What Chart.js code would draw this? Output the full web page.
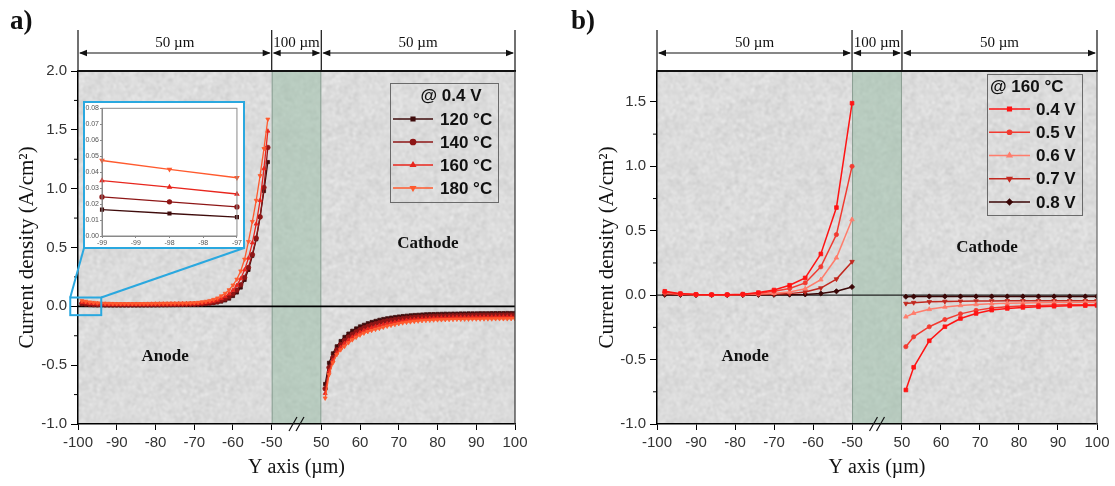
<!DOCTYPE html>
<html>
<head>
<meta charset="utf-8">
<title>Current density profiles</title>
<script src="https://cdn.jsdelivr.net/npm/chart.js@4.4.1/dist/chart.umd.min.js"></script>
<style>
  html, body { margin: 0; padding: 0; background: #fff; }
  #wrap { position: relative; width: 1115px; height: 486px; overflow: hidden; }
  canvas { display: block; }
  #panelA { position: absolute; left: 0; top: 0; }
  #panelB { position: absolute; left: 557px; top: 0; }
  #zoomBox { position: absolute; left: 83px; top: 101px; width: 162px; height: 148px;
             box-sizing: border-box; border: 2px solid #2aa8df; background: #fff; }
  #inset { position: absolute; left: 0; top: 0; }
</style>
</head>
<body>
<div id="wrap">
  <canvas id="panelA" width="557" height="486"></canvas>
  <canvas id="panelB" width="558" height="486"></canvas>
  <div id="zoomBox"><canvas id="inset" width="158" height="144"></canvas></div>
</div>
<script>
// ---------- data: panel a, 0.4 V at four temperatures ----------
const anodeX = [-99, -98, -97, -96, -95, -94, -93, -92, -91, -90, -89, -88, -87, -86, -85,
  -84, -83, -82, -81, -80, -79, -78, -77, -76, -75, -74, -73, -72, -71, -70,
  -69, -68, -67, -66, -65, -64, -63, -62, -61, -60, -59, -58, -57, -56, -55, -54, -53, -52, -51]
const cathodeX = [51, 52, 53, 54, 55, 56, 57, 58, 59, 60, 61, 62, 63, 64, 65, 66, 67, 68, 69, 70,
  71, 72, 73, 74, 75, 76, 77, 78, 79, 80, 81, 82, 83, 84, 85, 86, 87, 88, 89, 90,
  91, 92, 93, 94, 95, 96, 97, 98, 99, 100]

const tempLabels = ["120 °C", "140 °C", "160 °C", "180 °C"]

const anode120 = [0.0165, 0.0141, 0.0118, 0.0105, 0.0098, 0.0094, 0.0092, 0.0091, 0.009, 0.009, 0.009, 0.009, 0.009, 0.009, 0.009,
  0.0091, 0.0092, 0.0094, 0.0096, 0.0099, 0.0102, 0.0106, 0.011, 0.0115, 0.012, 0.0127, 0.0135, 0.0145, 0.0152, 0.016,
  0.018, 0.02, 0.022, 0.025, 0.029, 0.034, 0.041, 0.051, 0.066, 0.088, 0.118, 0.16, 0.225, 0.31, 0.43, 0.57, 0.76, 0.98, 1.226]
const anode140 = [0.0245, 0.0214, 0.0182, 0.016, 0.0148, 0.014, 0.0135, 0.0132, 0.013, 0.013, 0.013, 0.013, 0.013, 0.013, 0.013,
  0.0131, 0.0133, 0.0136, 0.0139, 0.0142, 0.0145, 0.0148, 0.0151, 0.0154, 0.0157, 0.016, 0.0164, 0.0168, 0.0173, 0.018,
  0.019, 0.021, 0.024, 0.028, 0.033, 0.04, 0.05, 0.063, 0.081, 0.105, 0.138, 0.183, 0.245, 0.33, 0.44, 0.58, 0.76, 1.01, 1.35]
const anode160 = [0.0347, 0.0306, 0.0263, 0.0232, 0.021, 0.0196, 0.0186, 0.018, 0.0176, 0.0174, 0.0172, 0.0172, 0.0172, 0.0172, 0.0173,
  0.0174, 0.0176, 0.0179, 0.0182, 0.0185, 0.0188, 0.0191, 0.0194, 0.0197, 0.02, 0.0204, 0.0208, 0.0213, 0.022, 0.023,
  0.025, 0.028, 0.032, 0.037, 0.044, 0.053, 0.066, 0.083, 0.106, 0.137, 0.178, 0.235, 0.31, 0.41, 0.54, 0.7, 0.9, 1.17, 1.49]
const anode180 = [0.0473, 0.0418, 0.0365, 0.032, 0.0288, 0.0265, 0.025, 0.024, 0.0233, 0.0228, 0.0225, 0.0223, 0.0222, 0.0222, 0.0223,
  0.0225, 0.0228, 0.0232, 0.0236, 0.024, 0.0244, 0.0248, 0.0252, 0.0256, 0.026, 0.0265, 0.027, 0.0276, 0.0285, 0.03,
  0.033, 0.037, 0.042, 0.049, 0.058, 0.07, 0.088, 0.11, 0.14, 0.18, 0.23, 0.3, 0.4, 0.55, 0.72, 0.9, 1.11, 1.34, 1.59]

const cathode120 = [-0.66, -0.48, -0.4, -0.34, -0.295, -0.26, -0.232, -0.208, -0.188, -0.171,
  -0.157, -0.144, -0.133, -0.124, -0.115, -0.108, -0.102, -0.096, -0.091, -0.087,
  -0.083, -0.08, -0.077, -0.074, -0.072, -0.07, -0.068, -0.067, -0.066, -0.065,
  -0.064, -0.063, -0.063, -0.062, -0.062, -0.061, -0.061, -0.06, -0.06, -0.06,
  -0.059, -0.059, -0.059, -0.058, -0.058, -0.058, -0.058, -0.057, -0.057, -0.057]
const cathode140 = [-0.7, -0.52, -0.435, -0.37, -0.325, -0.29, -0.262, -0.238, -0.217, -0.199,
  -0.183, -0.17, -0.158, -0.148, -0.139, -0.131, -0.124, -0.118, -0.113, -0.108,
  -0.104, -0.1, -0.097, -0.094, -0.092, -0.09, -0.088, -0.086, -0.085, -0.084,
  -0.083, -0.082, -0.081, -0.08, -0.08, -0.079, -0.079, -0.078, -0.078, -0.077,
  -0.077, -0.076, -0.076, -0.076, -0.075, -0.075, -0.075, -0.074, -0.074, -0.074]
const cathode160 = [-0.74, -0.55, -0.46, -0.395, -0.35, -0.315, -0.287, -0.262, -0.241, -0.222,
  -0.206, -0.193, -0.182, -0.172, -0.163, -0.155, -0.147, -0.14, -0.134, -0.128,
  -0.123, -0.118, -0.114, -0.111, -0.108, -0.106, -0.104, -0.102, -0.1, -0.099,
  -0.098, -0.097, -0.096, -0.095, -0.094, -0.094, -0.093, -0.093, -0.092, -0.092,
  -0.092, -0.091, -0.091, -0.091, -0.09, -0.09, -0.09, -0.09, -0.089, -0.089]
const cathode180 = [-0.78, -0.58, -0.48, -0.41, -0.37, -0.34, -0.31, -0.285, -0.263, -0.244,
  -0.228, -0.215, -0.205, -0.196, -0.187, -0.178, -0.169, -0.161, -0.154, -0.147,
  -0.141, -0.136, -0.132, -0.128, -0.125, -0.122, -0.12, -0.118, -0.116, -0.115,
  -0.114, -0.113, -0.112, -0.111, -0.11, -0.11, -0.109, -0.109, -0.108, -0.108,
  -0.108, -0.107, -0.107, -0.107, -0.106, -0.106, -0.106, -0.106, -0.105, -0.105]

// ---------- data: panel b, 160 °C at five cell voltages ----------
const voltAnodeX = [-98, -94, -90, -86, -82, -78, -74, -70, -66, -62, -58, -54, -50]
const voltCathodeX = [51, 53, 57, 61, 65, 69, 73, 77, 81, 85, 89, 93, 97, 100]
const voltLabels = ["0.4 V", "0.5 V", "0.6 V", "0.7 V", "0.8 V"]

const anode04 = [0.03, 0.012, 0.006, 0.004, 0.004, 0.008, 0.02, 0.04, 0.077, 0.134, 0.32, 0.68, 1.49]
const anode05 = [0.025, 0.01, 0.005, 0.003, 0.003, 0.006, 0.015, 0.031, 0.052, 0.095, 0.22, 0.47, 1.0]
const anode06 = [0.02, 0.008, 0.004, 0.003, 0.003, 0.005, 0.01, 0.015, 0.025, 0.05, 0.12, 0.29, 0.587]
const anode07 = [0.01, 0.005, 0.003, 0.002, 0.002, 0.003, 0.005, 0.008, 0.012, 0.025, 0.055, 0.125, 0.26]
const anode08 = [0.003, 0.002, 0.001, 0.001, 0.001, 0.001, 0.002, 0.003, 0.004, 0.006, 0.013, 0.03, 0.064]

const cathode04 = [-0.736, -0.56, -0.354, -0.245, -0.181, -0.142, -0.116, -0.103, -0.095, -0.09, -0.086, -0.083, -0.081, -0.08]
const cathode05 = [-0.4, -0.323, -0.245, -0.189, -0.145, -0.118, -0.1, -0.09, -0.084, -0.08, -0.077, -0.075, -0.074, -0.073]
const cathode06 = [-0.168, -0.14, -0.11, -0.092, -0.08, -0.072, -0.066, -0.062, -0.06, -0.058, -0.057, -0.056, -0.055, -0.055]
const cathode07 = [-0.065, -0.058, -0.052, -0.049, -0.047, -0.046, -0.045, -0.044, -0.044, -0.043, -0.043, -0.043, -0.043, -0.043]
const cathode08 = [-0.012, -0.011, -0.01, -0.01, -0.01, -0.01, -0.01, -0.01, -0.01, -0.01, -0.01, -0.01, -0.01, -0.01]

// ---------- ticks and text ----------
const xTickValues = [-100, -90, -80, -70, -60, -50, 50, 60, 70, 80, 90, 100]
const yTicksA = [-1, -0.5, 0, 0.5, 1, 1.5, 2]
const yTicksB = [-1, -0.5, 0, 0.5, 1, 1.5]
const insetXTicks = [-99, -98.5, -98, -97.5, -97]
const insetXLabels = ["-99", "-99", "-98", "-98", "-97"]
const insetYTicks = [0, 0.01, 0.02, 0.03, 0.04, 0.05, 0.06, 0.07, 0.08]
const spanLabels = ["50 µm", "100 µm", "50 µm"]

// ---------- styles ----------
const SANS = '"Liberation Sans", Arial, sans-serif'
const SERIF = '"Liberation Serif", "Times New Roman", serif'
Chart.defaults.font.family = SANS

const tempStyle = [
  { color: "#3f0c0c", point: "rect", rot: 0 },
  { color: "#8e1616", point: "circle", rot: 0 },
  { color: "#e8261d", point: "triangle", rot: 0 },
  { color: "#ff5a2e", point: "triangle", rot: 180 },
]
const voltStyle = [
  { color: "#ff1414", point: "rect", rot: 0, r: 2.6 },
  { color: "#f23a30", point: "circle", rot: 0, r: 2.1 },
  { color: "#ff7d6c", point: "triangle", rot: 0, r: 2.6 },
  { color: "#c2281f", point: "triangle", rot: 180, r: 2.6 },
  { color: "#3a0606", point: "rectRot", rot: 0, r: 2.6 },
]

// the x axis skips the membrane: -50..50 is squeezed into a narrow strip
const BREAK_GAP = 12.8
const brk = (v) => (v < 0 ? v : v - 100 + BREAK_GAP)

function line(ctx, x0, y0, x1, y1) {
  ctx.beginPath()
  ctx.moveTo(x0, y0)
  ctx.lineTo(x1, y1)
  ctx.stroke()
}

function arrow(ctx, x0, x1, y) {
  line(ctx, x0 + 2, y, x1 - 2, y)
  ;[[x0, 1], [x1, -1]].forEach(([p, d]) => {
    ctx.beginPath()
    ctx.moveTo(p + d, y)
    ctx.lineTo(p + d * 9, y - 3.2)
    ctx.lineTo(p + d * 9, y + 3.2)
    ctx.closePath()
    ctx.fill()
  })
}

// speckled tile used as plot background (stone-like texture)
function speckleTile(r, g, b, amp, seed, blur) {
  const size = 128
  const raw = document.createElement("canvas")
  raw.width = raw.height = size
  const c = raw.getContext("2d")
  c.fillStyle = `rgb(${r},${g},${b})`
  c.fillRect(0, 0, size, size)
  let s = seed
  const next = () => (s = (s * 48271) % 2147483647) / 2147483647
  // soft blotches first, then fine grain
  for (let i = 0; i < 260; i++) {
    const d = Math.round((next() * 2 - 1) * amp * 0.5)
    c.fillStyle = `rgba(${r + d},${g + d},${b + d},0.6)`
    const cx = next() * size, cy = next() * size, rad = 2 + next() * 5
    for (const ox of [-size, 0, size]) {
      for (const oy of [-size, 0, size]) {
        c.beginPath()
        c.arc(cx + ox, cy + oy, rad, 0, Math.PI * 2)
        c.fill()
      }
    }
  }
  for (let i = 0; i < 7000; i++) {
    const d = Math.round((next() * 2 - 1) * amp)
    c.fillStyle = `rgb(${r + d},${g + d},${b + d})`
    c.fillRect(Math.floor(next() * size), Math.floor(next() * size), 1 + Math.floor(next() * 2), 1 + Math.floor(next() * 2))
  }
  // blur a 3x3 mosaic so the tile edges wrap without seams
  const big = document.createElement("canvas")
  big.width = big.height = size * 3
  const bg = big.getContext("2d")
  for (let i = 0; i < 3; i++) for (let j = 0; j < 3; j++) bg.drawImage(raw, i * size, j * size)
  const out = document.createElement("canvas")
  out.width = out.height = size
  const o = out.getContext("2d")
  o.filter = `blur(${blur}px)`
  o.drawImage(big, -size, -size)
  return out
}
const grayTile = speckleTile(219, 219, 219, 20, 12345, 0.8)
const greenTile = speckleTile(184, 203, 191, 10, 777, 0.9)

const decor = {
  id: "decor",
  beforeDraw(chart) {
    const { ctx, chartArea: a, scales: { x } } = chart
    ctx.save()
    ctx.fillStyle = ctx.createPattern(grayTile, "repeat")
    ctx.fillRect(a.left, a.top, a.width, a.height)
    const b0 = x.getPixelForValue(brk(-50))
    const b1 = x.getPixelForValue(brk(50))
    ctx.fillStyle = ctx.createPattern(greenTile, "repeat")
    ctx.fillRect(b0, a.top, b1 - b0, a.height)
    ctx.strokeStyle = "rgba(110,130,118,0.6)"
    ctx.lineWidth = 1
    line(ctx, b0 + 0.5, a.top, b0 + 0.5, a.bottom)
    line(ctx, b1 - 0.5, a.top, b1 - 0.5, a.bottom)
    ctx.restore()
  },
  beforeDatasetsDraw(chart, args, o) {
    const { ctx, chartArea: a, scales: { y } } = chart
    const y0 = y.getPixelForValue(0)
    ctx.save()
    ctx.strokeStyle = o.zeroColor
    ctx.lineWidth = o.zeroWidth
    line(ctx, a.left, y0, a.right, y0)
    ctx.restore()
  },
  afterDraw(chart, args, o) {
    const { ctx, chartArea: a, scales: { x, y } } = chart
    ctx.save()
    // top and right edges of the frame
    ctx.strokeStyle = "#111"
    ctx.lineWidth = 2
    line(ctx, a.left - 1, a.top, a.right + 1, a.top)
    ctx.strokeStyle = o.rightColor
    ctx.lineWidth = 1.2
    line(ctx, a.right, a.top, a.right, a.bottom)

    // minor ticks on the y axis
    ctx.strokeStyle = "#000"
    ctx.lineWidth = 1
    for (let i = 0; i < o.yTicks.length - 1; i++) {
      const py = y.getPixelForValue((o.yTicks[i] + o.yTicks[i + 1]) / 2)
      line(ctx, a.left - 4, py, a.left, py)
    }

    // dimension bars above the plot
    const px = [-100, -50, 50, 100].map((v) => x.getPixelForValue(brk(v)))
    ctx.strokeStyle = "#111"
    ctx.fillStyle = "#111"
    ctx.lineWidth = 1.2
    px.forEach((p) => line(ctx, p, 30, p, a.top))
    for (let i = 0; i < 3; i++) arrow(ctx, px[i], px[i + 1], 53)
    ctx.font = `15px ${SERIF}`
    ctx.textAlign = "center"
    ctx.textBaseline = "middle"
    spanLabels.forEach((t, i) => ctx.fillText(t, (px[i] + px[i + 1]) / 2, 43))

    // axis break marks
    const cx = (px[1] + px[2]) / 2
    ctx.lineWidth = 1.2
    ;[-3.5, 3.5].forEach((d) => line(ctx, cx + d - 4, a.bottom + 7, cx + d + 4, a.bottom - 7))

    // electrode names
    ctx.font = `bold 17px ${SERIF}`
    o.regions.forEach((r) => ctx.fillText(r.text, x.getPixelForValue(brk(r.x)), y.getPixelForValue(r.y)))

    // legend box
    const L = o.legend
    ctx.strokeStyle = "#6a6a6a"
    ctx.lineWidth = 1
    ctx.strokeRect(L.box[0] + 0.5, L.box[1] + 0.5, L.box[2], L.box[3])
    ctx.font = `bold 17px ${SANS}`
    ctx.fillStyle = "#111"
    ctx.textAlign = L.titleAlign
    ctx.fillText(L.title, L.titleX, L.titleY)
    ctx.textAlign = "left"
    L.items.forEach((it, i) => {
      const ly = L.y0 + i * L.dy
      ctx.strokeStyle = it.color
      ctx.fillStyle = it.color
      ctx.lineWidth = 1.5
      line(ctx, L.x0, ly, L.x1, ly)
      Chart.helpers.drawPoint(ctx, { pointStyle: it.point, rotation: it.rot, radius: it.r || L.r, borderWidth: 0.8 }, (L.x0 + L.x1) / 2, ly)
      ctx.fillStyle = "#111"
      ctx.fillText(it.label, L.tx, ly + 1)
    })

    // panel letter
    ctx.font = `bold 27px ${SERIF}`
    ctx.fillText(o.letter, o.letterX, 22)

    // zoomed region and its connectors to the inset
    if (o.zoom) {
      const z = o.zoom
      const zx0 = x.getPixelForValue(z.x0), zx1 = x.getPixelForValue(z.x1)
      const zy0 = y.getPixelForValue(z.y1), zy1 = y.getPixelForValue(z.y0)
      ctx.strokeStyle = "#2aa8df"
      ctx.lineWidth = 2
      ctx.strokeRect(zx0, zy0, zx1 - zx0, zy1 - zy0)
      line(ctx, zx0, zy0, z.to[0][0], z.to[0][1])
      line(ctx, zx1, zy0, z.to[1][0], z.to[1][1])
    }
    ctx.restore()
  },
}

function makeSet(xs, ys, st, radius, width) {
  return {
    data: xs.map((x, i) => ({ x: brk(x), y: ys[i] })),
    borderColor: st.color,
    backgroundColor: st.color,
    pointBackgroundColor: st.color,
    pointBorderColor: st.color,
    pointStyle: st.point,
    pointRotation: st.rot,
    pointRadius: st.r || radius,
    pointBorderWidth: 0.8,
    borderWidth: width,
    tension: 0,
    fill: false,
  }
}

function buildPanel(id, cfg) {
  return new Chart(document.getElementById(id), {
    type: "line",
    data: { datasets: cfg.datasets },
    options: {
      responsive: false,
      animation: false,
      events: [],
      layout: { padding: { left: 0, top: 71, right: cfg.padRight, bottom: 0 } },
      plugins: { legend: { display: false }, tooltip: { enabled: false }, decor: cfg.decor },
      scales: {
        x: {
          type: "linear",
          min: -100,
          max: brk(100),
          afterBuildTicks: (s) => { s.ticks = xTickValues.map((v) => ({ value: brk(v) })) },
          afterFit: (s) => { s.height = 62 },
          ticks: {
            callback: (v, i) => String(xTickValues[i]),
            font: { family: SANS, size: 15 },
            color: "#333",
            padding: 4,
            autoSkip: false,
            maxRotation: 0,
          },
          grid: { drawOnChartArea: false, tickLength: 6, color: "#000", lineWidth: 1 },
          border: { color: "#000", width: 1.5 },
          title: { display: true, text: "Y axis (µm)", font: { family: SERIF, size: 20 }, color: "#111", padding: { top: 0, bottom: 6 } },
        },
        y: {
          type: "linear",
          min: -1,
          max: cfg.yMax,
          afterBuildTicks: (s) => { s.ticks = cfg.yTicks.map((v) => ({ value: v })) },
          afterFit: (s) => { s.width = cfg.yWidth },
          ticks: { callback: (v) => v.toFixed(1), font: { family: SANS, size: 15 }, color: "#333", padding: 4 },
          grid: { drawOnChartArea: false, tickLength: 7, color: "#000", lineWidth: 1 },
          border: { color: "#000", width: 1.5 },
          title: {
            display: true,
            text: "Current density (A/cm²)",
            font: { family: SERIF, size: 21 },
            color: "#111",
            padding: { top: cfg.yTitlePad, bottom: 0 },
          },
        },
      },
    },
    plugins: [decor],
  })
}

// ---------- panel a ----------
const tempAnode = [anode120, anode140, anode160, anode180]
const tempCathode = [cathode120, cathode140, cathode160, cathode180]
const setsA = []
for (let k = 3; k >= 0; k--) {
  setsA.push(makeSet(anodeX, tempAnode[k], tempStyle[k], 2.3, 1.3))
  setsA.push(makeSet(cathodeX, tempCathode[k], tempStyle[k], 2.3, 1.3))
}

buildPanel("panelA", {
  datasets: setsA,
  padRight: 42,
  yMax: 2,
  yTicks: yTicksA,
  yWidth: 78,
  yTitlePad: 15,
  decor: {
    zeroColor: "#000",
    zeroWidth: 1.6,
    rightColor: "#333",
    yTicks: yTicksA,
    letter: "a)",
    letterX: 10,
    regions: [
      { text: "Anode", x: -77.5, y: -0.43 },
      { text: "Cathode", x: 77.5, y: 0.535 },
    ],
    legend: {
      box: [390, 83, 108, 119],
      title: "@ 0.4 V",
      titleAlign: "center",
      titleX: 451,
      titleY: 96,
      items: tempLabels.map((label, i) => ({ label, ...tempStyle[i] })),
      x0: 393, x1: 433, tx: 440, y0: 119, dy: 23, r: 2.6,
    },
    zoom: { x0: -102, x1: -94, y0: -0.075, y1: 0.075, to: [[84, 248], [244, 248]] },
  },
})

// ---------- panel b ----------
const voltAnode = [anode04, anode05, anode06, anode07, anode08]
const voltCathode = [cathode04, cathode05, cathode06, cathode07, cathode08]
const setsB = []
voltAnode.forEach((ys, k) => {
  setsB.push(makeSet(voltAnodeX, ys, voltStyle[k], 2.6, 1.5))
  setsB.push(makeSet(voltCathodeX, voltCathode[k], voltStyle[k], 2.6, 1.5))
})

buildPanel("panelB", {
  datasets: setsB,
  padRight: 18,
  yMax: 1.74,
  yTicks: yTicksB,
  yWidth: 100,
  yTitlePad: 38,
  decor: {
    zeroColor: "#222",
    zeroWidth: 1.2,
    rightColor: "#666",
    yTicks: yTicksB,
    letter: "b)",
    letterX: 14,
    regions: [
      { text: "Anode", x: -77.4, y: -0.48 },
      { text: "Cathode", x: 71.8, y: 0.372 },
    ],
    legend: {
      box: [430, 74, 95, 141],
      title: "@ 160 °C",
      titleAlign: "left",
      titleX: 433,
      titleY: 87,
      items: voltLabels.map((label, i) => ({ label, ...voltStyle[i] })),
      x0: 432, x1: 473, tx: 479, y0: 109, dy: 23.25, r: 2.6,
    },
  },
})

// ---------- inset: first microns of the anode in panel a ----------
const insetFrame = {
  id: "insetFrame",
  afterDraw(chart) {
    const { ctx, chartArea: a } = chart
    ctx.save()
    ctx.strokeStyle = "#8a8a8a"
    ctx.lineWidth = 1
    ctx.strokeRect(a.left, a.top, a.width, a.height)
    ctx.restore()
  },
}

const insetSets = [3, 2, 1, 0].map((k) => {
  const st = tempStyle[k]
  return {
    data: anodeX.map((x, i) => ({ x, y: tempAnode[k][i] })).filter((p) => p.x >= -99 && p.x <= -97),
    borderColor: st.color,
    backgroundColor: st.color,
    pointStyle: st.point,
    pointRotation: st.rot,
    pointRadius: 2,
    borderWidth: 1.3,
    clip: 4,
  }
})

new Chart(document.getElementById("inset"), {
  type: "line",
  data: { datasets: insetSets },
  options: {
    responsive: false,
    animation: false,
    events: [],
    layout: { padding: { left: 0, top: 2, right: 3, bottom: 0 } },
    plugins: { legend: { display: false }, tooltip: { enabled: false } },
    scales: {
      x: {
        type: "linear",
        min: -99,
        max: -97,
        afterBuildTicks: (s) => { s.ticks = insetXTicks.map((v) => ({ value: v })) },
        afterFit: (s) => { s.height = 11 },
        ticks: { callback: (v, i) => insetXLabels[i], font: { size: 7 }, color: "#555", padding: 1, autoSkip: false, maxRotation: 0 },
        grid: { drawOnChartArea: false, tickLength: 2, color: "#888" },
        border: { color: "#888" },
      },
      y: {
        type: "linear",
        min: 0,
        max: 0.08,
        afterBuildTicks: (s) => { s.ticks = insetYTicks.map((v) => ({ value: v })) },
        afterFit: (s) => { s.width = 17 },
        ticks: { callback: (v) => v.toFixed(2), font: { size: 7 }, color: "#555", padding: 1 },
        grid: { drawOnChartArea: false, tickLength: 2, color: "#888" },
        border: { color: "#888" },
      },
    },
  },
  plugins: [insetFrame],
})
</script>
</body>
</html>
